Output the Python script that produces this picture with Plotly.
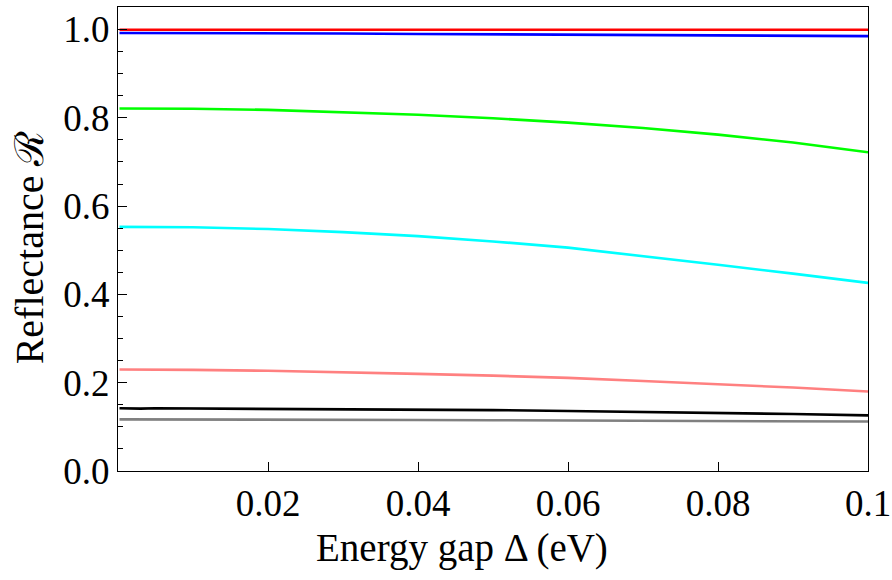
import plotly.graph_objects as go

# Energy gap values (eV)
gap = [0.0002, 0.001, 0.002, 0.003, 0.005, 0.0075, 0.01, 0.02, 0.03, 0.04,
       0.05, 0.06, 0.07, 0.08, 0.09, 0.1]

refl_red = [0.9995] * 16
refl_blue = [0.992, 0.992, 0.992, 0.992, 0.992, 0.992, 0.992, 0.9915, 0.991,
             0.990, 0.989, 0.988, 0.987, 0.986, 0.9855, 0.985]
refl_green = [0.821, 0.821, 0.821, 0.821, 0.821, 0.8208, 0.8205, 0.818, 0.813,
              0.807, 0.799, 0.789, 0.777, 0.762, 0.744, 0.722]
refl_cyan = [0.553, 0.553, 0.553, 0.553, 0.553, 0.5525, 0.552, 0.548, 0.541,
             0.532, 0.520, 0.506, 0.487, 0.467, 0.447, 0.426]
refl_salmon = [0.230, 0.230, 0.2285, 0.2295, 0.230, 0.2295, 0.229, 0.227, 0.224,
               0.220, 0.216, 0.211, 0.204, 0.197, 0.189, 0.180]
refl_black = [0.142, 0.1415, 0.142, 0.1412, 0.142, 0.1418, 0.142, 0.141, 0.140,
              0.139, 0.138, 0.136, 0.134, 0.132, 0.129, 0.126]
refl_gray = [0.117, 0.117, 0.1165, 0.117, 0.1165, 0.117, 0.1165, 0.1165, 0.116,
             0.1155, 0.115, 0.1145, 0.114, 0.113, 0.1125, 0.112]

x_tick_labels = ["0.02", "0.04", "0.06", "0.08", "0.1"]
y_tick_labels = ["0.0", "0.2", "0.4", "0.6", "0.8", "1.0"]

series = [
    (refl_gray, "#808080"),
    (refl_black, "#000000"),
    (refl_salmon, "#ff8080"),
    (refl_cyan, "#00ffff"),
    (refl_green, "#00ff00"),
    (refl_blue, "#0000ff"),
    (refl_red, "#ff0000"),
]

fig = go.Figure()
for vals, col in series:
    fig.add_trace(go.Scatter(x=gap, y=vals, mode="lines",
                             line=dict(color=col, width=2.6), showlegend=False))

font_family = "Liberation Serif"

fig.update_layout(
    width=892, height=580,
    margin=dict(l=118, r=24, t=7, b=109),
    paper_bgcolor="white", plot_bgcolor="white",
    font=dict(family=font_family, size=37, color="black"),
    xaxis=dict(
        range=[0, 0.1], tickvals=[0.02, 0.04, 0.06, 0.08, 0.1],
        ticktext=x_tick_labels,
        ticks="inside", ticklen=9, tickwidth=1, tickcolor="black",
        showline=True, linecolor="black", linewidth=1, mirror=True,
        showgrid=False, zeroline=False, automargin=False,
        tickfont=dict(family=font_family, size=37),
    ),
    yaxis=dict(
        range=[0, 1.051], tickvals=[0, 0.2, 0.4, 0.6, 0.8, 1.0],
        ticktext=y_tick_labels,
        ticks="inside", ticklen=9, tickwidth=1, tickcolor="black",
        minor=dict(dtick=0.05, tick0=0, ticks="inside", ticklen=5,
                   tickcolor="black", showgrid=False),
        showline=True, linecolor="black", linewidth=1, mirror=True,
        showgrid=False, zeroline=False, automargin=False,
        tickfont=dict(family=font_family, size=37),
    ),
    annotations=[
        dict(text="Energy gap Δ (eV)", xref="paper", yref="paper",
             x=0.459, y=-0.165, xanchor="center", yanchor="middle",
             showarrow=False, font=dict(family=font_family, size=39)),
        dict(text="Reflectance ℛ", xref="paper", yref="paper",
             x=-0.118, y=0.481, xanchor="center", yanchor="middle",
             textangle=-90, showarrow=False,
             font=dict(family=font_family, size=40)),
    ],
)

fig.write_html("out.html", config={"displayModeBar": False},
               post_script="document.body.style.margin='0';")
